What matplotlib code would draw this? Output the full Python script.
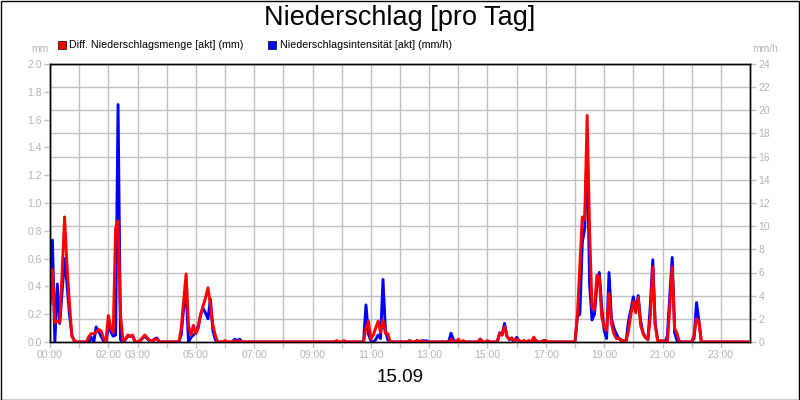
import numpy as np
import matplotlib
matplotlib.use("Agg")
import matplotlib.pyplot as plt
from matplotlib.patches import Rectangle
from matplotlib.ticker import MultipleLocator, FixedLocator, FixedFormatter

plt.rcParams['font.family'] = ['Liberation Sans', 'DejaVu Sans']

title = "Niederschlag [pro Tag]"
date_label = "15.09"
red_name = "Diff. Niederschlagsmenge [akt] (mm)"
blue_name = "Niederschlagsintensität [akt] (mm/h)"

# Diff. Niederschlagsmenge (mm), 5-minute samples (all other samples are 0)
red_time = ["00:00", "00:05", "00:10", "00:15", "00:20", "00:25", "00:30", "00:35", "00:40", "00:45", "00:50",
            "01:20", "01:25", "01:30", "01:35", "01:40", "01:45", "01:50",
            "02:00", "02:05", "02:10", "02:15", "02:20", "02:25", "02:30", "02:35", "02:40", "02:45", "02:50",
            "03:05", "03:10", "03:15", "03:20", "03:25", "03:30", "03:35", "03:40",
            "04:30", "04:35", "04:40", "04:45", "04:50", "04:55", "05:00", "05:05", "05:10", "05:15", "05:20",
            "05:25", "05:30", "05:35", "05:40", "06:00", "06:20", "06:30",
            "09:50", "10:05", "10:50", "10:55", "11:00", "11:05", "11:10", "11:15", "11:20", "11:25", "11:30", "11:35",
            "12:20", "12:35", "12:45", "13:45", "14:00", "14:10", "14:45", "15:00",
            "15:25", "15:30", "15:35", "15:40", "15:45", "15:50", "15:55", "16:00", "16:05", "16:15", "16:25",
            "16:35", "16:40", "16:55", "17:00",
            "18:05", "18:10", "18:15", "18:20", "18:25", "18:30", "18:35", "18:40", "18:45", "18:50", "18:55",
            "19:00", "19:05", "19:10", "19:15", "19:20", "19:25", "19:30", "19:35", "19:40", "19:45",
            "19:50", "19:55", "20:00", "20:05", "20:10", "20:15", "20:20", "20:25", "20:30", "20:35", "20:40",
            "20:45", "20:50", "20:55", "21:00", "21:15", "21:20", "21:25", "21:30",
            "22:05", "22:10", "22:15"]
red_mm = [0.28, 0.52, 0.14, 0.15, 0.14, 0.50, 0.90, 0.55, 0.28, 0.04, 0.01,
          0.04, 0.06, 0.06, 0.07, 0.09, 0.08, 0.03,
          0.19, 0.10, 0.07, 0.82, 0.87, 0.20, 0.01, 0.02, 0.05, 0.04, 0.05,
          0.01, 0.03, 0.05, 0.03, 0.01, 0.01, 0.02, 0.02,
          0.10, 0.30, 0.49, 0.12, 0.05, 0.12, 0.06, 0.10, 0.20, 0.26, 0.32,
          0.39, 0.27, 0.12, 0.05, 0.01, 0.01, 0.01,
          0.01, 0.01, 0.10, 0.15, 0.02, 0.05, 0.10, 0.15, 0.07, 0.16, 0.06, 0.06,
          0.01, 0.01, 0.01, 0.02, 0.02, 0.01, 0.02, 0.01,
          0.06, 0.05, 0.11, 0.04, 0.02, 0.03, 0.01, 0.02, 0.01, 0.01, 0.01,
          0.035, 0.01, 0.01, 0.01,
          0.20, 0.55, 0.90, 0.88, 1.63, 0.80, 0.25, 0.23, 0.48, 0.47, 0.18,
          0.11, 0.08, 0.35, 0.13, 0.06, 0.025, 0.025, 0.01, 0.01, 0.01,
          0.08, 0.20, 0.29, 0.21, 0.32, 0.12, 0.06, 0.03, 0.02, 0.18, 0.54,
          0.12, 0.01, 0.01, 0.01, 0.25, 0.54, 0.10, 0.06,
          0.05, 0.17, 0.14]

# Niederschlagsintensität (mm/h), 5-minute samples (all other samples are 0)
blue_time = ["00:00", "00:05", "00:10", "00:15", "00:20", "00:25", "00:30", "00:35", "00:40", "00:45", "00:50",
             "01:25", "01:30", "01:35", "01:40", "01:45", "01:50",
             "02:00", "02:05", "02:10", "02:15", "02:20", "02:25", "02:35", "02:40", "02:45", "02:50",
             "03:05", "03:10", "03:15", "03:20", "03:25", "03:35", "03:40",
             "04:30", "04:35", "04:40", "04:45", "04:50", "04:55", "05:00", "05:05", "05:10", "05:15", "05:20",
             "05:25", "05:30", "05:35", "05:40", "06:20", "06:25", "06:30",
             "10:50", "10:55", "11:00", "11:10", "11:15", "11:20", "11:25", "11:30", "11:35",
             "12:20", "12:35", "12:45", "12:50", "12:55", "13:45", "13:50", "14:00", "14:45", "15:00",
             "15:25", "15:30", "15:35", "15:40", "15:45", "15:50", "16:00", "16:05", "16:15", "16:25",
             "16:35", "16:55", "17:00",
             "18:05", "18:10", "18:15", "18:20", "18:25", "18:30", "18:35", "18:40", "18:45", "18:50", "18:55",
             "19:00", "19:05", "19:10", "19:15", "19:20", "19:25", "19:30", "19:35", "19:40",
             "19:50", "19:55", "20:00", "20:05", "20:10", "20:15", "20:20", "20:25", "20:30", "20:35", "20:40",
             "20:45", "20:50", "21:10", "21:15", "21:20", "21:25", "21:30",
             "22:05", "22:10", "22:15"]
blue_mmh = [3.3, 8.8, 0.0, 5.0, 1.6, 4.4, 7.2, 5.0, 2.4, 0.6, 0.1,
            0.4, 0.0, 1.3, 0.9, 0.5, 0.1,
            1.3, 0.9, 0.5, 0.6, 20.5, 0.2, 0.2, 0.5, 0.5, 0.5,
            0.1, 0.3, 0.5, 0.3, 0.1, 0.25, 0.35,
            0.6, 3.0, 4.3, 0.0, 0.4, 0.6, 0.8, 1.4, 2.4, 2.9, 2.5,
            2.0, 3.7, 1.0, 0.2, 0.25, 0.1, 0.25,
            3.2, 0.7, 0.1, 0.2, 0.6, 0.3, 5.4, 1.0, 0.2,
            0.1, 0.1, 0.1, 0.1, 0.1, 0.75, 0.2, 0.15, 0.25, 0.1,
            0.8, 0.6, 1.6, 0.5, 0.2, 0.3, 0.4, 0.1, 0.1, 0.1,
            0.25, 0.1, 0.1,
            2.2, 2.4, 8.6, 9.8, 17.2, 5.0, 1.9, 2.4, 4.8, 6.0, 3.0,
            1.0, 0.3, 6.0, 2.0, 1.2, 0.7, 0.3, 0.2, 0.1,
            1.8, 2.8, 3.9, 2.7, 4.0, 1.8, 0.8, 0.4, 0.2, 3.2, 7.1,
            1.5, 0.2, 0.5, 4.0, 7.3, 0.8, 0.1,
            0.3, 3.4, 1.8]

hour_labels = ["00:00", "", "02:00", "03:00", "", "05:00", "", "07:00", "", "09:00", "", "11:00", "",
               "13:00", "", "15:00", "", "17:00", "", "19:00", "", "21:00", "", "23:00"]


def to_hours(t):
    h, m = t.split(":")
    return int(h) + int(m) / 60.0


def fill_series(times, vals):
    x = np.arange(288) * 5 / 60.0
    y = np.zeros(288)
    for t, v in zip(times, vals):
        y[int(round(to_hours(t) * 12))] = v
    return x, y


xr, yr = fill_series(red_time, red_mm)
xb, yb = fill_series(blue_time, blue_mmh)

W, H = 800, 400
fig = plt.figure(figsize=(8, 4), dpi=100)
fig.patch.set_facecolor("white")

L, R, T, B = 50, 750, 64, 342
ax = fig.add_axes([L / W, 1 - B / H, (R - L) / W, (B - T) / H])
ax2 = ax.twinx()

# bottom layer (ax2): grid + blue line; top layer (ax): red line
ax2.set_zorder(1)
ax.set_zorder(2)
ax.patch.set_visible(False)

gray_txt = "#b4b4b4"
grid_c = "#c0c0c0"

ax2.plot(xb, yb, color="#0000ff", lw=2.1, solid_joinstyle="round")
ax.plot(xr, yr, color="#ff0000", lw=2.1, solid_joinstyle="round")

ax.set_xlim(0, 24)
ax.set_ylim(0, 2.0)
ax2.set_ylim(0, 24)

ax.yaxis.set_major_locator(MultipleLocator(0.2))
ax.yaxis.set_major_formatter(matplotlib.ticker.FormatStrFormatter("%.1f"))
ax2.yaxis.set_major_locator(MultipleLocator(2))
ax.xaxis.set_major_locator(FixedLocator(list(range(24))))
ax.xaxis.set_major_formatter(FixedFormatter(hour_labels))

ax2.grid(True, axis="both", color=grid_c, lw=1.0)
ax2.xaxis.set_visible(True)
ax2.set_axisbelow(True)
for a in (ax, ax2):
    a.tick_params(axis="both", which="both", direction="out", length=4, width=1,
                  color=grid_c, labelcolor=gray_txt, labelsize=7.5, pad=2)
    for s in a.spines.values():
        s.set_color("black")
        s.set_linewidth(1.0)
# ax2 x grid lines: twinx shares x so draw vertical lines via its x grid
ax2.tick_params(axis="x", length=0, labelbottom=False)

# Texts
fig.text(0.5, 1 - 18 / H, title, ha="center", va="center", fontsize=19.5, color="black")
fig.text(40 / W, 1 - 49 / H, "mm", ha="center", va="center", fontsize=7.5, color=gray_txt)
fig.text(765 / W, 1 - 49 / H, "mm/h", ha="center", va="center", fontsize=7.5, color=gray_txt)
fig.text(0.5, 1 - 378 / H, date_label, ha="center", va="center", fontsize=13.5, color="black")

# Legend
fig.patches.append(Rectangle((58 / W, 1 - 49 / H), 8 / W, 8 / H, transform=fig.transFigure,
                             facecolor="#ff0000", edgecolor="black", lw=0.5))
fig.text(69 / W, 1 - 45 / H, red_name, ha="left", va="center", fontsize=7.7, color="black")
fig.patches.append(Rectangle((268 / W, 1 - 49 / H), 8 / W, 8 / H, transform=fig.transFigure,
                             facecolor="#0000ff", edgecolor="black", lw=0.5))
fig.text(280 / W, 1 - 45 / H, blue_name, ha="left", va="center", fontsize=7.7, color="black")

# Figure border
fig.patches.append(Rectangle((0.5 / W, 0.5 / H), (W - 1.5) / W, (H - 1.5) / H, transform=fig.transFigure,
                             facecolor="none", edgecolor="black", lw=1.0))

fig.savefig("out.png", dpi=100)
